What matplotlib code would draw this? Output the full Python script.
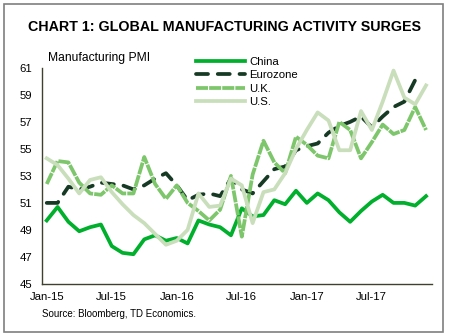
import numpy as np
import matplotlib
matplotlib.use('Agg')
import matplotlib.pyplot as plt
from matplotlib.patches import Rectangle

plt.rcParams['font.family'] = ['Liberation Sans', 'DejaVu Sans']

# monthly manufacturing PMI, Jan-15 .. Dec-17
months = ['Jan-15', 'Feb-15', 'Mar-15', 'Apr-15', 'May-15', 'Jun-15', 'Jul-15', 'Aug-15', 'Sep-15',
          'Oct-15', 'Nov-15', 'Dec-15', 'Jan-16', 'Feb-16', 'Mar-16', 'Apr-16', 'May-16', 'Jun-16',
          'Jul-16', 'Aug-16', 'Sep-16', 'Oct-16', 'Nov-16', 'Dec-16', 'Jan-17', 'Feb-17', 'Mar-17',
          'Apr-17', 'May-17', 'Jun-17', 'Jul-17', 'Aug-17', 'Sep-17', 'Oct-17', 'Nov-17', 'Dec-17']
china = [49.7, 50.7, 49.6, 48.9, 49.2, 49.4, 47.8, 47.3, 47.2, 48.3, 48.6, 48.2,
         48.4, 48.0, 49.7, 49.4, 49.2, 48.6, 50.6, 50.0, 50.1, 51.2, 50.9, 51.9,
         51.0, 51.7, 51.2, 50.3, 49.6, 50.4, 51.1, 51.6, 51.0, 51.0, 50.8, 51.5]
eurozone = [51.0, 51.0, 52.2, 52.0, 52.2, 52.5, 52.4, 52.3, 52.0, 52.3, 52.8, 53.2,
            52.3, 51.2, 51.6, 51.7, 51.5, 52.8, 52.0, 51.7, 52.6, 53.5, 53.7, 54.9,
            55.2, 55.4, 56.2, 56.7, 57.0, 57.4, 56.6, 57.4, 58.1, 58.5, 60.1, np.nan]
uk = [52.4, 54.1, 54.0, 52.5, 51.7, 51.6, 52.3, 51.7, 51.7, 54.4, 52.4, 51.3,
      52.3, 51.0, 50.4, 49.7, 50.5, 53.0, 48.5, 53.1, 55.6, 54.0, 53.2, 55.9,
      55.3, 54.5, 54.3, 57.0, 56.4, 54.3, 55.5, 56.8, 56.1, 56.4, 58.1, 56.4]
us = [54.3, 53.8, 52.8, 51.7, 52.7, 52.9, 51.8, 50.9, 50.1, 49.5, 48.7, 47.9,
      48.2, 49.0, 51.7, 50.7, 50.8, 52.8, 52.3, 49.5, 51.8, 52.0, 53.2, 55.0,
      56.4, 57.7, 57.1, 54.9, 54.9, 57.8, 56.4, 58.5, 60.8, 58.8, 58.3, 59.7]
yticks = [45, 47, 49, 51, 53, 55, 57, 59, 61]

x = np.arange(len(months))

fig = plt.figure(figsize=(4.5, 3.36), dpi=100)
ax = fig.add_axes([0.093, 0.155, 0.867, 0.643])

ax.plot(x, china, color='#00B02C', lw=2.7, label='China', solid_joinstyle='round')
ax.plot(x, eurozone, color='#173A25', lw=2.7, dashes=(3.2, 2.6), dash_capstyle='round',
        label='Eurozone')
ax.plot(x, uk, color='#7DC66B', lw=2.7, dashes=(3.2, 0.3), label='U.K.')
ax.plot(x, us, color='#C9DEBA', lw=2.7, label='U.S.', solid_joinstyle='round')

ax.set_xlim(-0.45, 35.55)
ax.set_ylim(45, 61)
ax.set_yticks(yticks)
ax.set_xticks(x[::6])
ax.set_xticklabels(months[::6])
ax.tick_params(axis='both', length=0, labelsize=8.2)
ax.tick_params(axis='y', pad=7)
ax.tick_params(axis='x', pad=6)
for s in ['top', 'right']:
    ax.spines[s].set_visible(False)
for s in ['left', 'bottom']:
    ax.spines[s].set_color('#404030')
    ax.spines[s].set_linewidth(1.0)

ax.legend(loc='upper left', bbox_to_anchor=(196 / 450, 1 - 57 / 336), bbox_transform=fig.transFigure,
          frameon=False, fontsize=8.2, handlelength=4.3, handletextpad=0.35, labelspacing=0.3,
          borderaxespad=0, borderpad=0)

fig.text(0.5, 1 - 27 / 336, 'CHART 1: GLOBAL MANUFACTURING ACTIVITY SURGES',
         ha='center', va='center', fontsize=10.3, fontweight='bold')
fig.text(48 / 450, 1 - 58 / 336, 'Manufacturing PMI', ha='left', va='center', fontsize=8.7)
fig.text(42 / 450, 1 - 314 / 336, 'Source: Bloomberg, TD Economics.', ha='left', va='center',
         fontsize=7.0)

fig.patches.append(Rectangle((4 / 450, 4 / 336), 439 / 450, 328 / 336, transform=fig.transFigure,
                             fill=False, edgecolor='#7F7F7F', lw=1.2))

fig.savefig('out.png', dpi=100)
